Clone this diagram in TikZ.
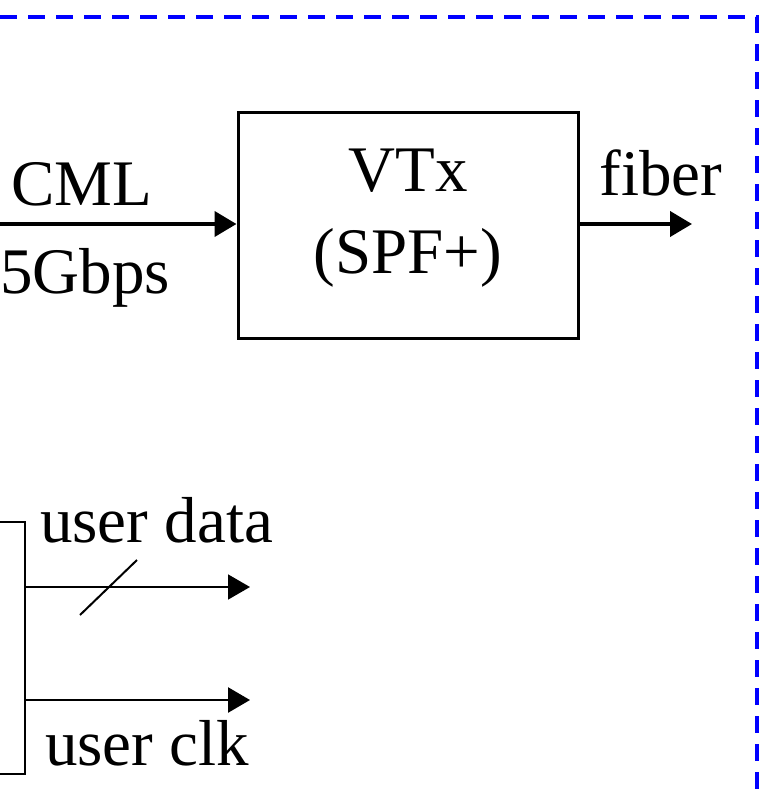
\documentclass[tikz,border=0pt]{standalone}
\usepackage{fontspec}
\setmainfont{Liberation Serif}
\usetikzlibrary{arrows.meta}

\tikzset{
  sig/.style={line width=4pt, -{Triangle[length=22pt,width=25pt]}},
  thin sig/.style={line width=1.6pt, -{Triangle[length=22pt,width=25pt]}},
  lbl/.style={font=\fontsize{65}{82}\selectfont, inner sep=0pt}
}

\begin{document}
\begin{tikzpicture}[x=1pt,y=-1pt]
\useasboundingbox (0,0) rectangle (759,796);
\draw[blue, line width=3.5pt, dash pattern=on 17pt off 11pt] (0,17) -- (757,17) -- (757,796);
\node (vtx) at (408,225) [draw, line width=3pt, minimum width=340pt, minimum height=226pt] {};
\node (vtxlbl) at (408,218) [align=center, lbl] {VTx\\(SPF+)};
\coordinate (in) at (0,224);
\coordinate (out) at (692,224);
\draw[sig] (in) -- (in -| vtx.west);
\draw[sig] (vtx.east |- out) -- (out);
\node (cml) at (82,205) [anchor=base, lbl] {CML};
\node (rate) at (0,293) [anchor=base west, lbl] {5Gbps};
\node (fiber) at (661,195) [anchor=base, lbl] {fiber};
% receiver side, mostly off the page
\node (rx) at (-100,648) [draw, line width=2pt, minimum width=250pt, minimum height=252pt] {};
\coordinate (dend) at (250,587);
\coordinate (cend) at (250,700);
\draw[thin sig] (rx.east |- dend) -- (dend);
\draw[thin sig, line width=2.6pt] (rx.east |- cend) -- (cend);
\draw[line width=2pt] (80,615) -- (137,560);
\node (udata) at (40,542) [anchor=base west, lbl] {user data};
\node (uclk) at (45,765) [anchor=base west, lbl] {user clk};
\end{tikzpicture}
\end{document}
